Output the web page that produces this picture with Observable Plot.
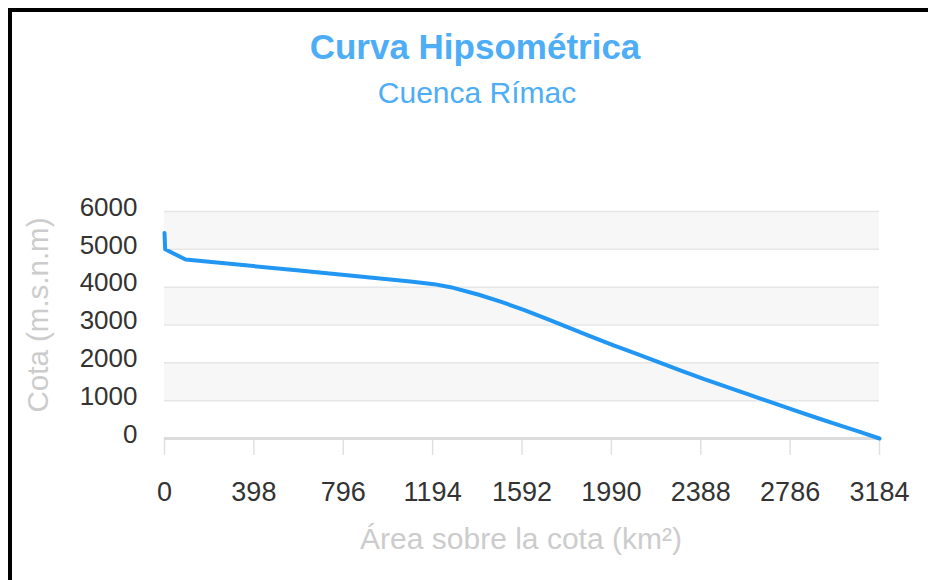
<!DOCTYPE html>
<html>
<head>
<meta charset="utf-8">
<script src="https://cdn.jsdelivr.net/npm/d3@7"></script>
<script src="https://cdn.jsdelivr.net/npm/@observablehq/plot@0.6"></script>
<style>
  html, body { margin: 0; padding: 0; background: #fff; }
  #wrap { position: relative; width: 928px; height: 580px; overflow: hidden; font-family: "Liberation Sans", Arial, sans-serif; }
  #frame { position: absolute; left: 8px; top: 8px; width: 1000px; height: 1000px; border-left: 4px solid #000; border-top: 4px solid #000; box-sizing: border-box; }
  .t { position: absolute; line-height: 1; white-space: nowrap; transform: translate(-50%, -50%); }
  #chart { position: absolute; left: 0; top: 0; }
</style>
</head>
<body>
<div id="wrap">
  <div id="frame"></div>
  <div id="chart"></div>
  <div class="t" style="left:475px; top:46px; font-size:35px; font-weight:bold; color:#4dadf6;">Curva Hipsométrica</div>
  <div class="t" style="left:477px; top:93px; font-size:30px; color:#4dadf6;">Cuenca Rímac</div>
  <div class="t" style="left:38px; top:315px; font-size:29.5px; color:#cccccc; transform: translate(-50%, -50%) rotate(-90deg);">Cota (m.s.n.m)</div>
  <div class="t" style="left:521px; top:539px; font-size:30px; color:#cccccc;">Área sobre la cota (km²)</div>
</div>
<script>
// Hypsometric curve: area above elevation (km²) vs elevation (m.s.n.m)
const area = [0, 3, 94, 600, 1095, 1200, 1274, 1400, 1500, 1600, 1700, 1800, 1900, 2000, 2100, 2200, 2300, 2400, 2500, 2600, 2700, 2800, 2900, 3000, 3100, 3184];
const cota = [5430, 5000, 4730, 4440, 4150, 4080, 4000, 3800, 3610, 3400, 3170, 2930, 2690, 2460, 2245, 2020, 1795, 1575, 1370, 1165, 960, 755, 555, 360, 170, 0];

const yTicks = [0, 1000, 2000, 3000, 4000, 5000, 6000];
const xTicks = [0, 398, 796, 1194, 1592, 1990, 2388, 2786, 3184];
const bandLo = [5000, 3000, 1000];
const bandHi = [6000, 4000, 2000];

const data = area.map((a, i) => ({area: a, cota: cota[i]}));
const bands = bandLo.map((lo, i) => ({lo, hi: bandHi[i]}));

const chart = Plot.plot({
  width: 928,
  height: 580,
  marginLeft: 164,
  marginRight: 49,
  marginTop: 211,
  marginBottom: 142,
  style: {fontFamily: "'Liberation Sans', Arial, sans-serif", background: "transparent", color: "#333"},
  x: {domain: [xTicks[0], xTicks[xTicks.length - 1]]},
  y: {domain: [yTicks[0], yTicks[yTicks.length - 1]]},
  marks: [
    Plot.rect(bands, {y1: "lo", y2: "hi", fill: "#f7f7f7"}),
    Plot.ruleY(yTicks.slice(1), {stroke: "#e6e6e6", strokeWidth: 1.5}),
    Plot.axisY(yTicks, {tickSize: 0, tickPadding: 27, fontSize: 26, dy: -4, fill: "#333", label: null, tickFormat: d => String(d)}),
    Plot.axisX(xTicks, {tickSize: 17, tickPadding: 26, fontSize: 27, stroke: "#e0e0e0", strokeWidth: 1.5, fill: "#333", label: null, tickFormat: d => String(d)}),
    Plot.ruleY([0], {stroke: "#dcdcdc", strokeWidth: 3}),
    Plot.line(data, {x: "area", y: "cota", curve: "linear", stroke: "#2196f3", strokeWidth: 4, strokeLinejoin: "round"})
  ]
});
document.getElementById("chart").appendChild(chart);
</script>
</body>
</html>
